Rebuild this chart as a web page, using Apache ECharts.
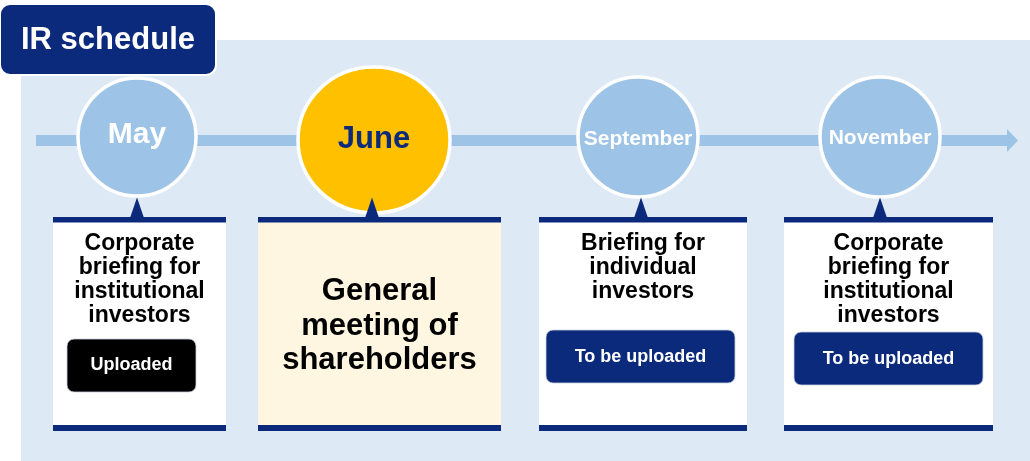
<!DOCTYPE html>
<html>
<head>
<meta charset="utf-8">
<style>
  html, body { margin: 0; padding: 0; background: #ffffff; }
  #chart { width: 1030px; height: 461px; }
</style>
<script src="https://cdn.jsdelivr.net/npm/echarts@6/dist/echarts.min.js"></script>
</head>
<body>
<div id="chart"></div>
<script>
// ---- content ----
const title = 'IR schedule';
const months = ['May', 'June', 'September', 'November'];
const highlight = [false, true, false, false];
const descriptions = [
  ['Corporate', 'briefing for', 'institutional', 'investors'],
  ['General', 'meeting of', 'shareholders'],
  ['Briefing for', 'individual', 'investors'],
  ['Corporate', 'briefing for', 'institutional', 'investors']
];
const statuses = ['Uploaded', null, 'To be uploaded', 'To be uploaded'];
const statusDone = [true, false, false, false];

// ---- layout (styling only) ----
const FONT = '"Liberation Sans", Arial, Helvetica, sans-serif';
const NAVY = '#0b2a7c';
const LIGHT = '#9dc3e6';
const PANEL = '#dde9f5';
const layout = [
  { cx: 137, cy: 137, rx: 59, ry: 59, fs: 30, ty: 135, tri: 137, box: [53, 226], lineY: [244, 268, 292, 316], fsText: 23, btn: [67, 339, 129, 53], btnTy: 365 },
  { cx: 374, cy: 140, rx: 76, ry: 73, fs: 31, ty: 139, tri: 372, box: [258, 501], lineY: [291, 326, 360], fsText: 31 },
  { cx: 638, cy: 137, rx: 60, ry: 60, fs: 21, ty: 139, tri: 641, box: [539, 747], lineY: [244, 268, 292], fsText: 23, btn: [546, 330, 189, 53], btnTy: 357 },
  { cx: 880, cy: 137, rx: 60, ry: 60, fs: 21, ty: 138, tri: 880, box: [784, 993], lineY: [244, 268, 292, 316], fsText: 23, btn: [794, 332, 189, 53], btnTy: 359 }
];

const els = [];
// background panel
els.push({ type: 'rect', shape: { x: 21, y: 40, width: 1009, height: 421 }, style: { fill: PANEL }, z: 0 });
// timeline arrow
els.push({ type: 'rect', shape: { x: 36, y: 135, width: 972, height: 11 }, style: { fill: LIGHT }, z: 1 });
els.push({ type: 'polygon', shape: { points: [[1007, 129], [1018, 140.5], [1007, 152]] }, style: { fill: LIGHT }, z: 1 });
// title badge
els.push({ type: 'rect', shape: { x: 0, y: 4, width: 216, height: 71, r: 10 }, style: { fill: NAVY, stroke: '#ffffff', lineWidth: 2 }, z: 5 });
els.push({ type: 'text', x: 108, y: 40, style: { text: title, fill: '#ffffff', font: 'bold 31px ' + FONT, align: 'center', verticalAlign: 'middle' }, z: 6 });

months.forEach((m, i) => {
  const L = layout[i];
  // box
  const bx = L.box[0], bw = L.box[1] - L.box[0];
  els.push({ type: 'rect', shape: { x: bx, y: 217, width: bw, height: 214 }, style: { fill: highlight[i] ? '#fff6e2' : '#ffffff' }, z: 2 });
  els.push({ type: 'rect', shape: { x: bx, y: 217, width: bw, height: 5.5 }, style: { fill: NAVY }, z: 3 });
  els.push({ type: 'rect', shape: { x: bx, y: 425, width: bw, height: 6 }, style: { fill: NAVY }, z: 3 });
  // circle
  els.push({ type: 'ellipse', shape: { cx: L.cx, cy: L.cy, rx: L.rx, ry: L.ry }, style: { fill: highlight[i] ? '#ffc000' : LIGHT, stroke: '#ffffff', lineWidth: 3.5 }, z: 3 });
  els.push({ type: 'text', x: L.cx, y: L.ty, style: { text: m, fill: highlight[i] ? NAVY : '#ffffff', font: 'bold ' + L.fs + 'px ' + FONT, align: 'center', verticalAlign: 'middle' }, z: 4 });
  // pointer triangle
  els.push({ type: 'polygon', shape: { points: [[L.tri, 197.5], [L.tri + 7, 218], [L.tri - 7, 218]] }, style: { fill: NAVY }, z: 4 });
  // description
  const tx = bx + bw / 2;
  descriptions[i].forEach((line, k) => {
    els.push({ type: 'text', x: tx, y: L.lineY[k], style: { text: line, fill: '#000000', font: 'bold ' + L.fsText + 'px ' + FONT, align: 'center', verticalAlign: 'middle' }, z: 4 });
  });
  // status button
  if (statuses[i]) {
    const b = L.btn;
    els.push({ type: 'rect', shape: { x: b[0], y: b[1], width: b[2], height: b[3], r: 7 }, style: { fill: statusDone[i] ? '#000000' : NAVY, stroke: '#c8cfe0', lineWidth: 0.8 }, z: 4 });
    els.push({ type: 'text', x: b[0] + b[2] / 2, y: L.btnTy, style: { text: statuses[i], fill: '#ffffff', font: 'bold 18px ' + FONT, align: 'center', verticalAlign: 'middle' }, z: 5 });
  }
});

const chart = echarts.init(document.getElementById('chart'), null, { renderer: 'canvas' });
chart.setOption({ animation: false, graphic: { elements: els } });
</script>
</body>
</html>
